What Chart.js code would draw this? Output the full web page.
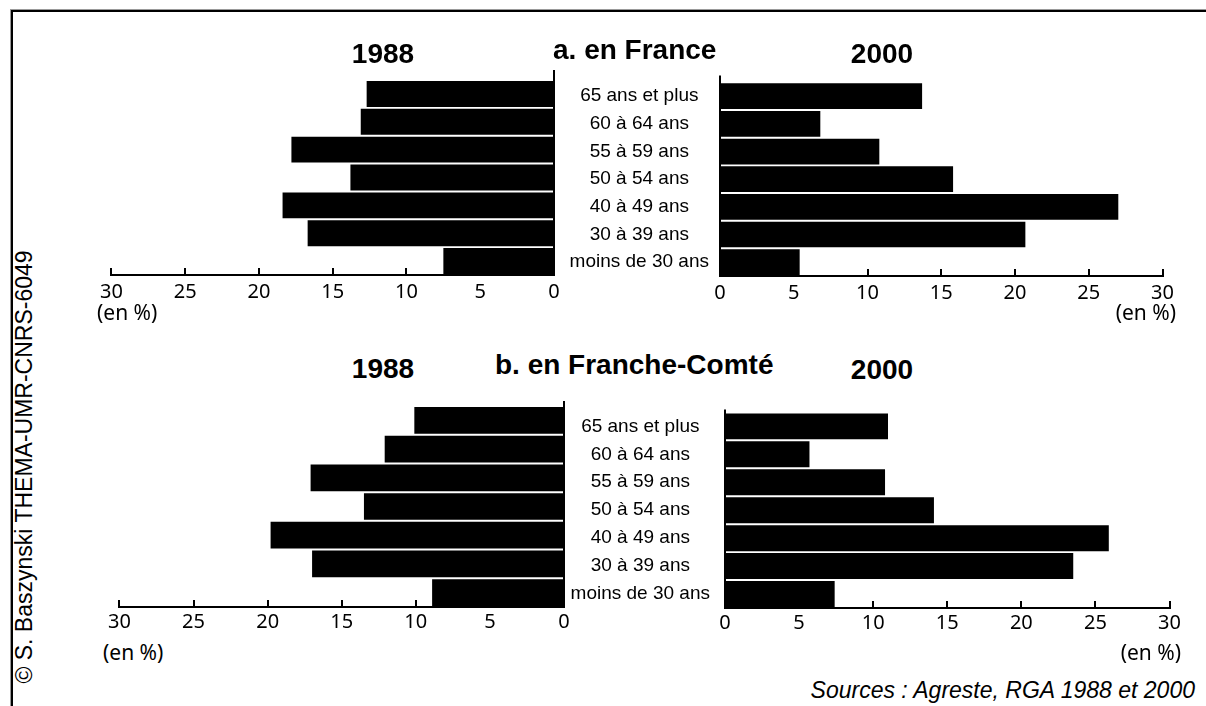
<!DOCTYPE html>
<html>
<head>
<meta charset="utf-8">
<script src="https://cdn.jsdelivr.net/npm/chart.js@4.4.1/dist/chart.umd.min.js"></script>
<style>
html,body{margin:0;padding:0;background:#fff;width:1206px;height:706px;overflow:hidden;position:relative;font-family:"Liberation Sans",Arial,sans-serif;color:#000;}
.frame{position:absolute;left:11px;top:10px;width:1300px;height:800px;border-top:2px solid #000;border-left:2px solid #000;box-shadow:-1px -1px 0 #999;}
canvas{position:absolute;}
.t{position:absolute;white-space:nowrap;line-height:1;}
.b{font-weight:bold;font-size:28px;}
.c{transform:translate(-50%,-50%);}
.l{transform:translateY(-50%);}
.r{transform:translate(-100%,-50%);}
.u{font-family:"Noto Sans",sans-serif;font-size:21px;}
</style>
</head>
<body>
<div class="frame"></div>
<canvas id="tl" width="486" height="245" style="left:88px;top:60px"></canvas>
<canvas id="tr" width="626" height="246" style="left:560px;top:60px"></canvas>
<canvas id="bl" width="486" height="251" style="left:98px;top:386px"></canvas>
<canvas id="br" width="626" height="252" style="left:565px;top:386px"></canvas>

<div class="t b c" style="left:383px;top:54px">1988</div>
<div class="t b l" style="left:553px;top:50px">a. en France</div>
<div class="t b c" style="left:882px;top:54px">2000</div>
<div class="t b c" style="left:383px;top:369px">1988</div>
<div class="t b l" style="left:495px;top:365px">b. en Franche-Comté</div>
<div class="t b c" style="left:882px;top:370px">2000</div>

<div class="t u l" style="left:97px;top:312px">(en %)</div>
<div class="t u r" style="left:1176px;top:312px">(en %)</div>
<div class="t u l" style="left:103px;top:652px">(en %)</div>
<div class="t u r" style="left:1181px;top:652px">(en %)</div>

<div class="t c" style="left:24px;top:467px;font-size:23px;transform:translate(-50%,-50%) rotate(-90deg);">© S. Baszynski THEMA-UMR-CNRS-6049</div>
<div class="t r" style="left:1195px;top:690px;font-size:23px;font-style:italic;">Sources : Agreste, RGA 1988 et 2000</div>

<script>
const categories = ["65 ans et plus", "60 à 64 ans", "55 à 59 ans", "50 à 54 ans", "40 à 49 ans", "30 à 39 ans", "moins de 30 ans"];
const france1988 = [12.7, 13.1, 17.8, 13.8, 18.4, 16.7, 7.5];
const france2000 = [13.7, 6.8, 10.8, 15.8, 27.0, 20.7, 5.4];
const comte1988 = [10.1, 12.1, 17.1, 13.5, 19.8, 17.0, 8.9];
const comte2000 = [11.0, 5.7, 10.8, 14.1, 25.9, 23.5, 7.4];
const axisMin = 0;
const axisMax = 30;
const axisStep = 5;

const axisExt = {
  id: 'axisExt',
  afterDraw(chart, args, o) {
    const ctx = chart.ctx;
    const x = chart.scales.x.getPixelForValue(0);
    const top = chart.chartArea.top;
    ctx.save();
    ctx.strokeStyle = '#000';
    ctx.lineWidth = 2;
    ctx.beginPath();
    ctx.moveTo(x, top - o.ext);
    ctx.lineTo(x, top);
    ctx.stroke();
    ctx.restore();
  }
};

function makeChart(id, values, mirrored, tickPad, labelPad, ext) {
  return new Chart(document.getElementById(id), {
    type: 'bar',
    data: {
      labels: categories,
      datasets: [{
        data: values,
        backgroundColor: '#000',
        borderWidth: 0,
        barPercentage: 0.93,
        categoryPercentage: 1
      }]
    },
    options: {
      indexAxis: 'y',
      responsive: false,
      animation: false,
      devicePixelRatio: 1,
      layout: { padding: { left: mirrored ? 20 : 0, right: 20, top: 20, bottom: 0 } },
      plugins: { legend: { display: false }, tooltip: { enabled: false }, axisExt: { ext: ext } },
      scales: {
        x: {
          type: 'linear', min: axisMin, max: axisMax, reverse: mirrored,
          ticks: { stepSize: axisStep, color: '#000', padding: tickPad, maxRotation: 0, autoSkip: false,
                   font: { family: '"Noto Sans", sans-serif', size: 20 } },
          grid: { display: true, drawOnChartArea: false, drawTicks: true, tickLength: -7,
                  tickWidth: 2, tickColor: '#000', color: '#000', lineWidth: 2 },
          border: { display: true, color: '#000', width: 2 },
          afterFit(s) { s.height = 30; }
        },
        y: {
          type: 'category', position: mirrored ? 'right' : 'left', offset: true,
          ticks: { display: !mirrored, crossAlign: 'center', padding: labelPad, color: '#000', autoSkip: false,
                   font: { family: '"Liberation Sans", Arial, sans-serif', size: 19 } },
          grid: { display: false, drawTicks: false },
          border: { display: true, color: '#000', width: 2 },
          afterFit(s) { s.width = mirrored ? 0 : 160; }
        }
      }
    },
    plugins: [axisExt]
  });
}

makeChart('tl', france1988, true, 12, 0, 10);
makeChart('tr', france2000, false, 12, 11, 7);
makeChart('bl', comte1988, true, 10, 0, 5);
makeChart('br', comte2000, false, 10, 15, 3);
</script>
</body>
</html>
